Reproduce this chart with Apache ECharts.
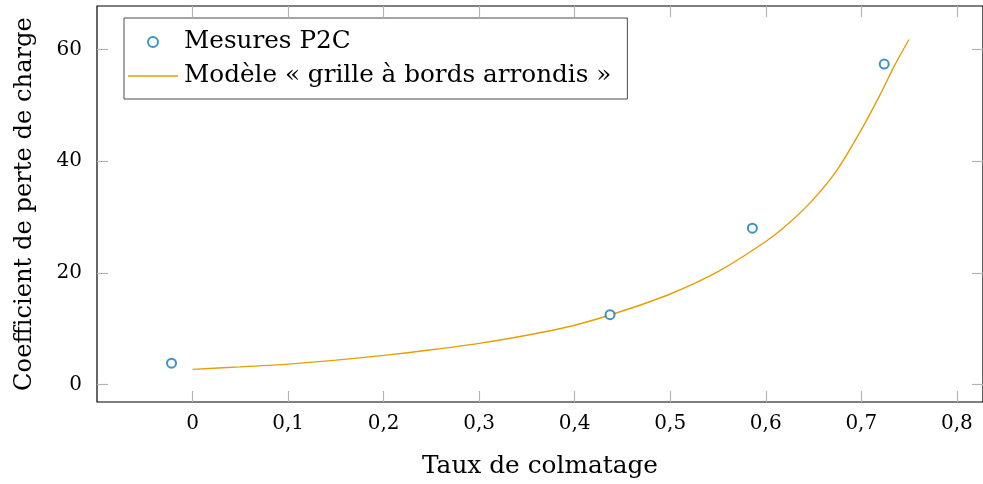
<!DOCTYPE html>
<html>
<head>
<meta charset="utf-8">
<script src="https://cdn.jsdelivr.net/npm/echarts@6/dist/echarts.min.js"></script>
<style>html,body{margin:0;padding:0;background:#fff;}#c{width:983px;height:484px;}</style>
</head>
<body>
<div id="c"></div>
<script>
const xTicks = [0, 0.1, 0.2, 0.3, 0.4, 0.5, 0.6, 0.7, 0.8];
const yTicks = [0, 20, 40, 60];
const measTau = [-0.022, 0.437, 0.586, 0.724];
const measK = [3.8, 12.5, 28.0, 57.4];
const modelTau = [0, 0.05, 0.1, 0.15, 0.2, 0.25, 0.3, 0.35, 0.4, 0.45, 0.5, 0.55, 0.6, 0.625, 0.65, 0.675, 0.7, 0.72, 0.735, 0.75];
const modelK = [2.7, 3.15, 3.64, 4.35, 5.2, 6.2, 7.35, 8.8, 10.6, 13.15, 16.2, 20.2, 25.6, 29.0, 33.2, 38.5, 45.6, 52.0, 57.2, 61.8];
const measName = 'Mesures P2C';
const modelName = 'Modèle « grille à bords arrondis »';
const xTitle = 'Taux de colmatage';
const yTitle = 'Coefficient de perte de charge';

const FONT = 'DejaVu Serif';
const FS = 20;
const fmt = v => String(v).replace('.', ',');
const xr = [-0.1, 0.8274], yr = [-3.15, 67.8];
const tickStyle = {show: true, inside: true, length: 11, lineStyle: {color: '#b4b4b4', width: 1.2}};
const noLine = {show: false, onZero: false};

const chart = echarts.init(document.getElementById('c'), null, {renderer: 'canvas'});
chart.setOption({
  animation: false,
  backgroundColor: '#fff',
  grid: {left: 97, top: 6, width: 890, height: 396, show: true, borderColor: '#000', borderWidth: 1.2, backgroundColor: 'transparent'},
  legend: {
    orient: 'vertical', left: 124, top: 18,
    padding: [9, 16, 8, 4], itemGap: 4,
    itemWidth: 50, itemHeight: 10,
    borderColor: '#4a4a4a', borderWidth: 1, backgroundColor: '#fff',
    textStyle: {fontFamily: FONT, fontSize: 24.7, color: '#000', lineHeight: 30, padding: [0, 0, 0, 1]},
    data: [
      measName,
      {name: modelName, icon: 'path://M0,0 L50,0 L50,1.4 L0,1.4 Z', itemStyle: {color: '#e69f00'}}
    ]
  },
  xAxis: [{
    type: 'value', min: xr[0], max: xr[1], position: 'bottom',
    axisLine: noLine, splitLine: {show: false},
    axisTick: Object.assign({customValues: xTicks}, tickStyle),
    axisLabel: {customValues: xTicks, formatter: fmt, margin: 12, fontFamily: FONT, fontSize: FS, color: '#000'},
    name: xTitle, nameLocation: 'middle', nameGap: 52,
    nameTextStyle: {fontFamily: FONT, fontSize: 24.8, color: '#000'}
  }, {
    type: 'value', min: xr[0], max: xr[1], position: 'top',
    axisLine: noLine, splitLine: {show: false},
    axisTick: Object.assign({customValues: xTicks}, tickStyle),
    axisLabel: {show: false}
  }],
  yAxis: [{
    type: 'value', min: yr[0], max: yr[1], position: 'left',
    axisLine: noLine, splitLine: {show: false},
    axisTick: Object.assign({customValues: yTicks}, tickStyle),
    axisLabel: {customValues: yTicks, margin: 15, fontFamily: FONT, fontSize: FS, color: '#000'},
    name: yTitle, nameLocation: 'middle', nameGap: 60, nameRotate: 90,
    nameTextStyle: {fontFamily: FONT, fontSize: 24.2, color: '#000'}
  }, {
    type: 'value', min: yr[0], max: yr[1], position: 'right',
    axisLine: noLine, splitLine: {show: false},
    axisTick: Object.assign({customValues: yTicks}, tickStyle),
    axisLabel: {show: false}
  }],
  series: [{
    name: measName, type: 'scatter',
    symbol: 'emptyCircle', symbolSize: 9,
    itemStyle: {color: '#0a78be', borderColor: '#0a78be', borderWidth: 1.6},
    data: measTau.map((t, i) => [t, measK[i]]),
    z: 3
  }, {
    name: modelName, type: 'line',
    symbol: 'none', smooth: 0.25,
    lineStyle: {color: '#e69f00', width: 1.4},
    itemStyle: {color: '#e69f00'},
    data: modelTau.map((t, i) => [t, modelK[i]]),
    z: 2
  }]
});
</script>
</body>
</html>
